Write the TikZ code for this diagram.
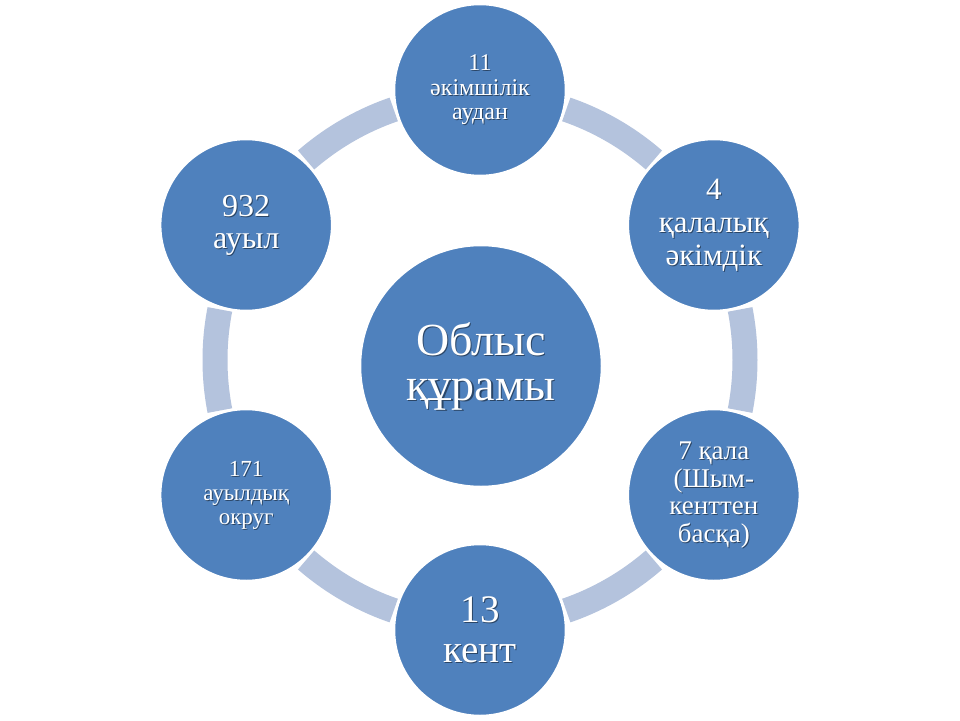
\documentclass[tikz,border=0pt]{standalone}
\usepackage{fontspec}
\setmainfont{Liberation Serif}
\definecolor{ringc}{RGB}{180,195,221}
\definecolor{bubc}{RGB}{79,129,189}
\tikzset{
  ringline/.style={draw=ringc, line width=25pt, line cap=butt},
  bub/.style={circle, fill=bubc, draw=white, line width=2.5pt, minimum size=172pt, inner sep=0pt},
  hub/.style={circle, fill=bubc, draw=white, line width=2.5pt, minimum size=242pt, inner sep=0pt},
  txt/.style={text=white, align=center, inner sep=0pt},
  shad/.style={text=black, opacity=0.45, align=center, inner sep=0pt},
  f0/.style={font=\fontsize{46}{45}\selectfont},
  f1/.style={font=\fontsize{24}{24.5}\selectfont},
  f2/.style={font=\fontsize{31}{33}\selectfont},
  f3/.style={font=\fontsize{27}{27.5}\selectfont},
  f4/.style={font=\fontsize{39}{40}\selectfont},
  f5/.style={font=\fontsize{23}{24}\selectfont},
  f6/.style={font=\fontsize{32}{32}\selectfont},
}
\begin{document}
\begin{tikzpicture}[x=1pt,y=1pt]
\useasboundingbox[fill=white] (-480,-360) rectangle (480,360);
\coordinate (c) at (0,0);
\foreach \m in {120,60,0,-60,-120,180}{
  \draw[ringline] ([shift={(\m-11:265)}]c) arc[start angle=\m-11, end angle=\m+11, radius=265];
}
\node[bub] (top) at (90:270) {};
\node[bub] (rt) at (30:270) {};
\node[bub] (rb) at (-30:270) {};
\node[bub] (bot) at (-90:270) {};
\node[bub] (lb) at (-150:270) {};
\node[bub] (lt) at (150:270) {};
\node[hub] (hub) at (1,-6) {};
% shadows
\node[shad,f0] (s0) at ([shift={(1.3,-1.3)}]hub.center) {Облыс\\құрамы};
\node[shad,f1] (s1) at ([shift={(1,-1)}]top.center) {11\\әкімшілік\\аудан};
\node[shad,f2] (s2) at ([shift={(1,-1)}]rt.center) {4\\қалалық\\әкімдік};
\node[shad,f3] (s3) at ([shift={(1,-1)}]rb.center) {7 қала\\(Шым-\\кенттен\\басқа)};
\node[shad,f4] (s4) at ([shift={(1,-1)}]bot.center) {13\\кент};
\node[shad,f5] (s5) at ([shift={(1,-1)}]lb.center) {171\\ауылдық\\округ};
\node[shad,f6] (s6) at ([shift={(1,-1)}]lt.center) {932\\ауыл};
% texts
\node[txt,f0] (t0) at (hub.center) {Облыс\\құрамы};
\node[txt,f1] (t1) at (top.center) {11\\әкімшілік\\аудан};
\node[txt,f2] (t2) at (rt.center) {4\\қалалық\\әкімдік};
\node[txt,f3] (t3) at (rb.center) {7 қала\\(Шым-\\кенттен\\басқа)};
\node[txt,f4] (t4) at (bot.center) {13\\кент};
\node[txt,f5] (t5) at (lb.center) {171\\ауылдық\\округ};
\node[txt,f6] (t6) at (lt.center) {932\\ауыл};
\end{tikzpicture}
\end{document}
